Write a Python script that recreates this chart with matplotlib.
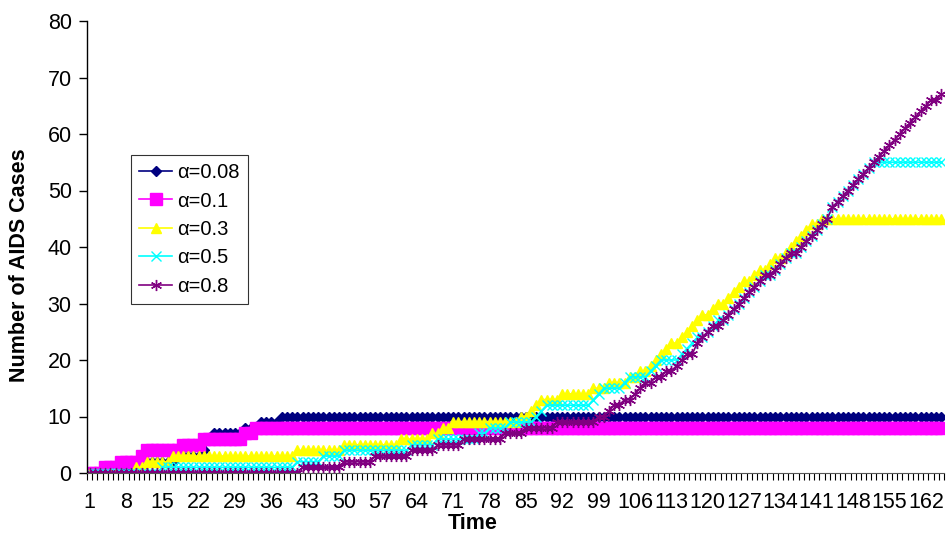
import numpy as np
import matplotlib
matplotlib.use('Agg')
import matplotlib.pyplot as plt

plt.rcParams['font.family'] = ['Liberation Sans', 'DejaVu Sans']

# simulated AIDS cases per time step, one list per alpha value
time = np.arange(1, 166)

cases_008 = [
    0, 0, 0, 0, 0, 0, 0, 1, 1, 1,
    1, 2, 2, 2, 2, 2, 2, 3, 3, 3,
    3, 3, 4, 6, 7, 7, 7, 7, 7, 7,
    8, 8, 8, 9, 9, 9, 9, 10, 10, 10,
    10, 10, 10, 10, 10, 10, 10, 10, 10, 10,
    10, 10, 10, 10, 10, 10, 10, 10, 10, 10,
    10, 10, 10, 10, 10, 10, 10, 10, 10, 10,
    10, 10, 10, 10, 10, 10, 10, 10, 10, 10,
    10, 10, 10, 10, 10, 10, 10, 10, 10, 10,
    10, 10, 10, 10, 10, 10, 10, 10, 10, 10,
    10, 10, 10, 10, 10, 10, 10, 10, 10, 10,
    10, 10, 10, 10, 10, 10, 10, 10, 10, 10,
    10, 10, 10, 10, 10, 10, 10, 10, 10, 10,
    10, 10, 10, 10, 10, 10, 10, 10, 10, 10,
    10, 10, 10, 10, 10, 10, 10, 10, 10, 10,
    10, 10, 10, 10, 10, 10, 10, 10, 10, 10,
    10, 10, 10, 10, 10,
]

cases_01 = [
    0, 0, 0, 1, 1, 1, 2, 2, 2, 2,
    3, 4, 4, 4, 4, 4, 4, 4, 5, 5,
    5, 5, 6, 6, 6, 6, 6, 6, 6, 6,
    7, 7, 8, 8, 8, 8, 8, 8, 8, 8,
    8, 8, 8, 8, 8, 8, 8, 8, 8, 8,
    8, 8, 8, 8, 8, 8, 8, 8, 8, 8,
    8, 8, 8, 8, 8, 8, 8, 8, 8, 8,
    8, 8, 8, 8, 8, 8, 8, 8, 8, 8,
    8, 8, 8, 8, 8, 8, 8, 8, 8, 8,
    8, 8, 8, 8, 8, 8, 8, 8, 8, 8,
    8, 8, 8, 8, 8, 8, 8, 8, 8, 8,
    8, 8, 8, 8, 8, 8, 8, 8, 8, 8,
    8, 8, 8, 8, 8, 8, 8, 8, 8, 8,
    8, 8, 8, 8, 8, 8, 8, 8, 8, 8,
    8, 8, 8, 8, 8, 8, 8, 8, 8, 8,
    8, 8, 8, 8, 8, 8, 8, 8, 8, 8,
    8, 8, 8, 8, 8,
]

cases_03 = [
    0, 0, 0, 0, 0, 0, 0, 0, 0, 1,
    1, 2, 2, 2, 2, 2, 3, 3, 3, 3,
    3, 3, 3, 3, 3, 3, 3, 3, 3, 3,
    3, 3, 3, 3, 3, 3, 3, 3, 3, 3,
    4, 4, 4, 4, 4, 4, 4, 4, 4, 5,
    5, 5, 5, 5, 5, 5, 5, 5, 5, 5,
    6, 6, 6, 6, 6, 6, 7, 7, 8, 8,
    9, 9, 9, 9, 9, 9, 9, 9, 9, 9,
    9, 9, 9, 10, 10, 11, 12, 13, 13, 13,
    13, 14, 14, 14, 14, 14, 14, 15, 15, 15,
    16, 16, 16, 16, 17, 17, 18, 18, 19, 20,
    21, 22, 23, 23, 24, 25, 26, 27, 28, 28,
    29, 30, 30, 31, 32, 33, 34, 34, 35, 36,
    36, 37, 38, 38, 39, 40, 41, 42, 43, 44,
    44, 45, 45, 45, 45, 45, 45, 45, 45, 45,
    45, 45, 45, 45, 45, 45, 45, 45, 45, 45,
    45, 45, 45, 45, 45,
]

cases_05 = [
    0, 0, 0, 0, 0, 0, 0, 0, 0, 0,
    0, 0, 0, 0, 1, 1, 1, 1, 1, 1,
    1, 1, 1, 1, 1, 1, 1, 1, 1, 1,
    1, 1, 1, 1, 1, 1, 1, 1, 1, 1,
    2, 2, 2, 2, 2, 3, 3, 3, 3, 4,
    4, 4, 4, 4, 4, 4, 4, 4, 4, 4,
    4, 4, 5, 5, 5, 5, 5, 6, 6, 6,
    6, 6, 6, 6, 6, 7, 7, 8, 8, 8,
    8, 9, 9, 9, 9, 9, 10, 11, 12, 12,
    12, 12, 12, 12, 12, 12, 12, 13, 14, 15,
    15, 15, 15, 16, 17, 17, 17, 17, 18, 19,
    20, 20, 20, 20, 21, 22, 23, 24, 24, 25,
    26, 27, 27, 28, 29, 30, 31, 32, 33, 34,
    35, 35, 36, 37, 38, 39, 39, 40, 41, 42,
    43, 44, 45, 47, 48, 49, 50, 51, 52, 53,
    54, 55, 55, 55, 55, 55, 55, 55, 55, 55,
    55, 55, 55, 55, 55,
]

cases_08 = [
    0, 0, 0, 0, 0, 0, 0, 0, 0, 0,
    0, 0, 0, 0, 0, 0, 0, 0, 0, 0,
    0, 0, 0, 0, 0, 0, 0, 0, 0, 0,
    0, 0, 0, 0, 0, 0, 0, 0, 0, 0,
    0, 1, 1, 1, 1, 1, 1, 1, 1, 2,
    2, 2, 2, 2, 2, 3, 3, 3, 3, 3,
    3, 3, 4, 4, 4, 4, 4, 5, 5, 5,
    5, 5, 6, 6, 6, 6, 6, 6, 6, 6,
    7, 7, 7, 7, 8, 8, 8, 8, 8, 8,
    9, 9, 9, 9, 9, 9, 9, 9, 10, 10,
    11, 12, 12, 13, 13, 14, 15, 16, 16, 17,
    17, 18, 18, 19, 20, 21, 21, 23, 24, 25,
    26, 26, 27, 28, 29, 30, 31, 32, 33, 34,
    35, 35, 36, 37, 38, 39, 39, 40, 41, 42,
    43, 44, 45, 47, 48, 49, 50, 51, 52, 53,
    54, 55, 56, 57, 58, 59, 60, 61, 62, 63,
    64, 65, 66, 66, 67,
]

labels = ['\u03b1=0.08', '\u03b1=0.1', '\u03b1=0.3', '\u03b1=0.5', '\u03b1=0.8']
colors = ['#000080', '#FF00FF', '#FFFF00', '#00FFFF', '#800080']
markers = ['D', 's', '^', 'x', (6, 2, 0)]
msizes = [5, 8, 7, 7, 8]
series = [cases_008, cases_01, cases_03, cases_05, cases_08]

fig = plt.figure(figsize=(9.46, 5.36), dpi=100)
ax = fig.add_axes([87 / 946, 1 - 473 / 536, 857 / 946, 452 / 536])

for vals, lab, c, m, ms in zip(series, labels, colors, markers, msizes):
    ax.plot(time, vals, color=c, marker=m, markersize=ms, markeredgecolor=c,
            markerfacecolor=c, linewidth=1.2, label=lab)

ax.set_xlim(0.5, 165.5)
ax.set_ylim(0, 80)
ax.set_yticks(np.arange(0, 81, 10))
ax.set_xticks(np.arange(1, 166, 7))
ax.set_xticks(np.arange(0.5, 166, 1), minor=True)
ax.tick_params(axis='x', which='major', length=0, pad=14, labelsize=15.5)
ax.tick_params(axis='x', which='minor', length=5, width=0.8, direction='out')
ax.tick_params(axis='y', length=6, width=1, pad=5, labelsize=15.5)

for s in ['top', 'right']:
    ax.spines[s].set_visible(False)
ax.spines['left'].set_linewidth(1)
ax.spines['bottom'].set_color('#555555')

ax.set_xlabel('Time', fontsize=15.5, fontweight='bold')
ax.xaxis.set_label_coords(0.45, -0.088)
ax.set_ylabel('Number of AIDS Cases', fontsize=15.5, fontweight='bold')
ax.yaxis.set_label_coords(-0.066, 0.46)

leg = ax.legend(loc='upper left', bbox_to_anchor=(131 / 946, 1 - 155 / 536),
                bbox_transform=fig.transFigure, fontsize=14.5, frameon=True,
                fancybox=False, edgecolor='black', borderaxespad=0,
                handlelength=1.65, handletextpad=0.25, labelspacing=0.47,
                borderpad=0.4)
leg.get_frame().set_linewidth(0.8)

fig.savefig('out.png', dpi=100)
